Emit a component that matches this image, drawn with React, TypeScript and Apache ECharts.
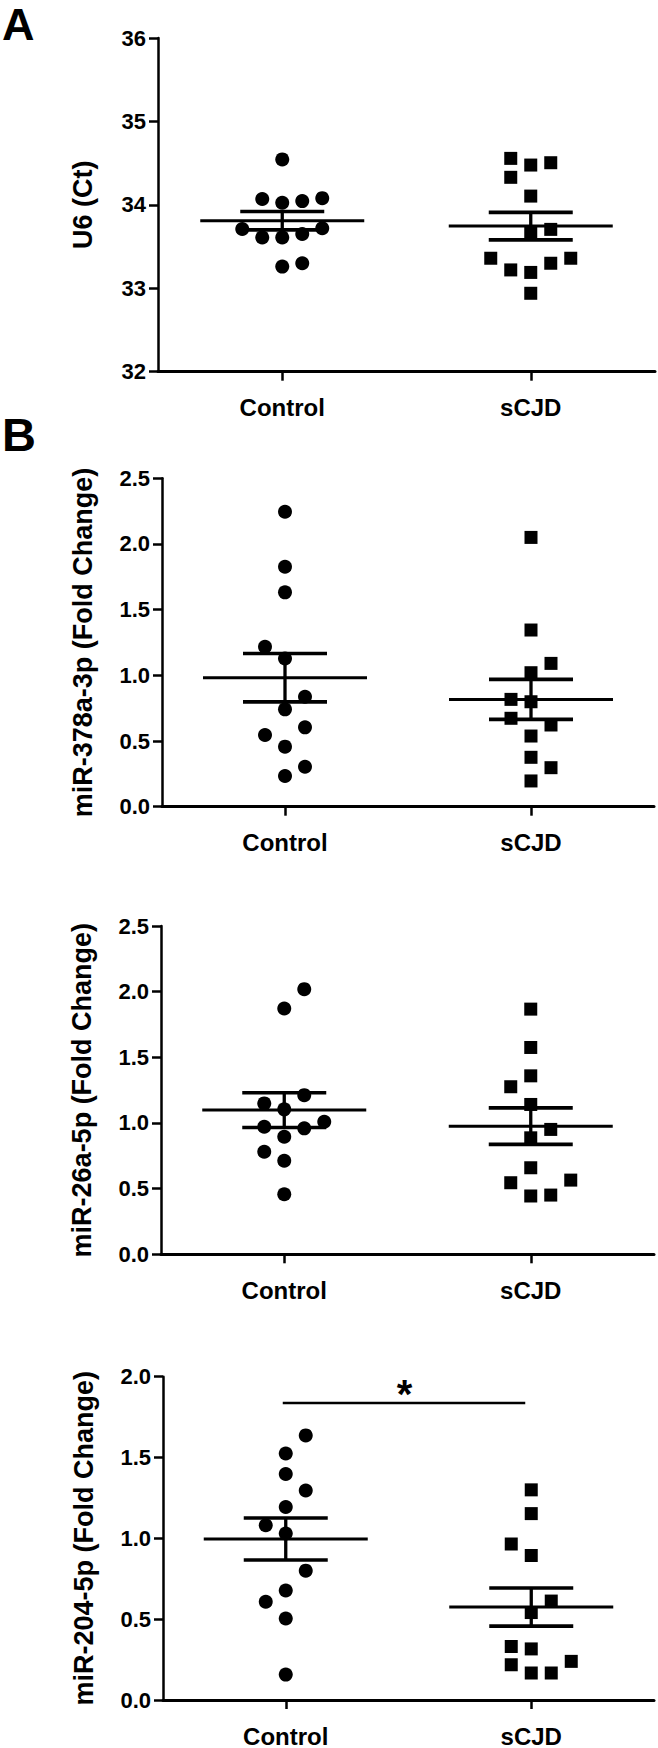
import React, { useEffect, useRef } from "react";
import * as echarts from "echarts";

// ---------- data ----------
const categories = ["Control", "sCJD"];

// Panel A: U6 (Ct)
const aControl = [34.545, 34.07, 34.025, 34.045, 34.08, 33.71, 33.72, 33.61, 33.61, 33.65, 33.26, 33.3];
const aControlSlot = [0, -1, 0, 1, 2, -2, 2, -1, 0, 1, 0, 1];
const aScjd = [34.557, 34.477, 34.505, 34.33, 34.105, 33.706, 33.66, 33.36, 33.36, 33.22, 33.3, 33.19, 32.94];
const aScjdSlot = [-1, 0, 1, -1, 0, 1, 0, -2, 2, -1, 1, 0, 0];
const aMean = [33.81, 33.745];
const aSem = [0.11, 0.165];

// Panel B1: miR-378a-3p
const b1Control = [2.245, 1.827, 1.632, 1.218, 1.129, 0.837, 0.741, 0.604, 0.546, 0.457, 0.304, 0.234];
const b1ControlSlot = [0, 0, 0, -1, 0, 1, 0, 1, -1, 0, 1, 0];
const b1Scjd = [2.05, 1.345, 1.091, 1.02, 0.817, 0.799, 0.673, 0.622, 0.538, 0.376, 0.297, 0.196];
const b1ScjdSlot = [0, 0, 1, 0, -1, 0, -1, 1, 0, 0, 1, 0];
const b1Mean = [0.982, 0.817];
const b1Sem = [0.184, 0.152];

// Panel B2: miR-26a-5p
const b2Control = [2.019, 1.872, 1.212, 1.149, 1.104, 1.009, 0.971, 0.959, 0.895, 0.781, 0.712, 0.457];
const b2ControlSlot = [1, 0, 1, -1, 0, 2, -1, 1, 0, -1, 0, 0];
const b2Scjd = [1.867, 1.575, 1.359, 1.276, 1.141, 0.951, 0.887, 0.659, 0.545, 0.565, 0.444, 0.451];
const b2ScjdSlot = [0, 0, 0, -1, 0, 1, 0, 0, -1, 2, 0, 1];
const b2Mean = [1.098, 0.976];
const b2Sem = [0.132, 0.139];

// Panel B3: miR-204-5p
const b3Control = [1.637, 1.525, 1.398, 1.296, 1.194, 1.081, 1.03, 0.8, 0.677, 0.608, 0.504, 0.157];
const b3ControlSlot = [1, 0, 0, 1, 0, -1, 0, 1, 0, -1, 0, 0];
const b3Scjd = [1.3, 1.153, 0.965, 0.894, 0.612, 0.541, 0.331, 0.316, 0.239, 0.218, 0.167, 0.167];
const b3ScjdSlot = [0, 0, -1, 0, 1, 0, -1, 0, 2, -1, 0, 1];
const b3Mean = [0.996, 0.575];
const b3Sem = [0.13, 0.118];
const b3Significance = 1.837;
const b3SigLabel = "*";

const yNames = ["U6 (Ct)", "miR-378a-3p (Fold Change)", "miR-26a-5p (Fold Change)", "miR-204-5p (Fold Change)"];
const yMins = [32, 0, 0, 0];
const yMaxs = [36, 2.5, 2.5, 2.0];
const yIntervals = [1, 0.5, 0.5, 0.5];
const yDecimals = [0, 1, 1, 1];
const panelLetters = ["A", "B"];

// ---------- layout ----------
const FONT = '"Liberation Sans", Arial, sans-serif';
const grids = [
  { left: 158, top: 38, width: 497, height: 333.7 },
  { left: 162, top: 478.3, width: 492, height: 328.4 },
  { left: 161, top: 926, width: 493, height: 328.3 },
  { left: 163, top: 1376.7, width: 491, height: 326.6 },
];
const JITTER = 20;

const panels = [
  { ctrl: aControl, ctrlSlot: aControlSlot, scjd: aScjd, scjdSlot: aScjdSlot, mean: aMean, sem: aSem },
  { ctrl: b1Control, ctrlSlot: b1ControlSlot, scjd: b1Scjd, scjdSlot: b1ScjdSlot, mean: b1Mean, sem: b1Sem },
  { ctrl: b2Control, ctrlSlot: b2ControlSlot, scjd: b2Scjd, scjdSlot: b2ScjdSlot, mean: b2Mean, sem: b2Sem },
  { ctrl: b3Control, ctrlSlot: b3ControlSlot, scjd: b3Scjd, scjdSlot: b3ScjdSlot, mean: b3Mean, sem: b3Sem },
];

function buildOption() {
  const xAxis: any[] = [];
  const yAxis: any[] = [];
  const series: any[] = [];

  panels.forEach((p, i) => {
    xAxis.push({
      type: "category",
      gridIndex: i,
      data: categories,
      boundaryGap: true,
      axisLine: { show: true, lineStyle: { color: "#000", width: 3 } },
      axisTick: { show: true, alignWithLabel: true, length: 9, lineStyle: { color: "#000", width: 2.5 } },
      axisLabel: { color: "#000", fontFamily: FONT, fontWeight: "bold", fontSize: 24, margin: 24 },
      splitLine: { show: false },
    });
    yAxis.push({
      type: "value",
      gridIndex: i,
      min: yMins[i],
      max: yMaxs[i],
      interval: yIntervals[i],
      name: yNames[i],
      nameLocation: "middle",
      nameGap: i === 0 ? 62 : 66,
      nameTextStyle: { color: "#000", fontFamily: FONT, fontWeight: "bold", fontSize: 27 },
      axisLine: { show: true, lineStyle: { color: "#000", width: 2.5 } },
      axisTick: { show: true, length: 9, lineStyle: { color: "#000", width: 2.5 } },
      axisLabel: {
        color: "#000",
        fontFamily: FONT,
        fontWeight: "bold",
        fontSize: 22,
        margin: 12,
        formatter: (v: number) => v.toFixed(yDecimals[i]),
      },
      splitLine: { show: false },
    });

    series.push({
      type: "scatter",
      xAxisIndex: i,
      yAxisIndex: i,
      symbol: "circle",
      symbolSize: 14,
      itemStyle: { color: "#000", opacity: 1 },
      data: p.ctrl.map((v, k) => ({ value: [0, v], symbolOffset: [p.ctrlSlot[k] * JITTER, 0] })),
      z: 3,
    });
    series.push({
      type: "scatter",
      xAxisIndex: i,
      yAxisIndex: i,
      symbol: "rect",
      symbolSize: 13,
      itemStyle: { color: "#000", opacity: 1 },
      data: p.scjd.map((v, k) => ({ value: [1, v], symbolOffset: [p.scjdSlot[k] * JITTER, 0] })),
      z: 3,
    });
    series.push({
      type: "custom",
      xAxisIndex: i,
      yAxisIndex: i,
      data: p.mean.map((m, k) => [k, m, p.sem[k]]),
      encode: { x: 0, y: 1 },
      z: 4,
      renderItem: (params: any, api: any) => {
        const g = api.value(0);
        const m = api.value(1);
        const s = api.value(2);
        const c = api.coord([g, m]);
        const up = api.coord([g, m + s]);
        const lo = api.coord([g, m - s]);
        const st = { stroke: "#000", lineWidth: 3 };
        const cap = { stroke: "#000", lineWidth: 3.6 };
        return {
          type: "group",
          children: [
            { type: "line", shape: { x1: c[0] - 82, y1: c[1], x2: c[0] + 82, y2: c[1] }, style: st },
            { type: "line", shape: { x1: c[0] - 42, y1: up[1], x2: c[0] + 42, y2: up[1] }, style: cap },
            { type: "line", shape: { x1: c[0] - 42, y1: lo[1], x2: c[0] + 42, y2: lo[1] }, style: cap },
            { type: "line", shape: { x1: c[0], y1: up[1], x2: c[0], y2: lo[1] }, style: { stroke: "#000", lineWidth: 3.3 } },
          ],
        };
      },
    });
  });

  // significance bar on panel B3
  series.push({
    type: "custom",
    xAxisIndex: 3,
    yAxisIndex: 3,
    data: [[0, 1, b3Significance]],
    encode: { y: 2 },
    z: 4,
    renderItem: (params: any, api: any) => {
      const a = api.coord([api.value(0), api.value(2)]);
      const b = api.coord([api.value(1), api.value(2)]);
      return {
        type: "group",
        children: [
          { type: "line", shape: { x1: a[0] - 3, y1: a[1], x2: b[0] - 6, y2: b[1] }, style: { stroke: "#000", lineWidth: 2.6 } },
          {
            type: "text",
            x: (a[0] + b[0]) / 2 - 4,
            y: a[1] + 11,
            style: {
              text: b3SigLabel,
              fill: "#000",
              font: `bold 40px ${FONT}`,
              textAlign: "center",
              textVerticalAlign: "bottom",
            },
          },
        ],
      };
    },
  });

  return {
    animation: false,
    backgroundColor: "#fff",
    grid: grids.map((g) => ({ ...g, containLabel: false })),
    xAxis,
    yAxis,
    series,
    graphic: [
      {
        type: "text",
        left: 2,
        top: 2,
        style: { text: panelLetters[0], fill: "#000", font: `bold 45px ${FONT}` },
      },
      {
        type: "text",
        left: 2,
        top: 411,
        style: { text: panelLetters[1], fill: "#000", font: `bold 47px ${FONT}` },
      },
    ],
  };
}

export default function App() {
  const ref = useRef<HTMLDivElement>(null);
  useEffect(() => {
    if (!ref.current) return;
    const chart = echarts.init(ref.current, undefined, { renderer: "svg" });
    chart.setOption(buildOption());
    return () => chart.dispose();
  }, []);
  return (
    <div
      ref={ref}
      style={{ position: "absolute", left: 0, top: 0, width: 658, height: 1748, background: "#fff" }}
    />
  );
}
